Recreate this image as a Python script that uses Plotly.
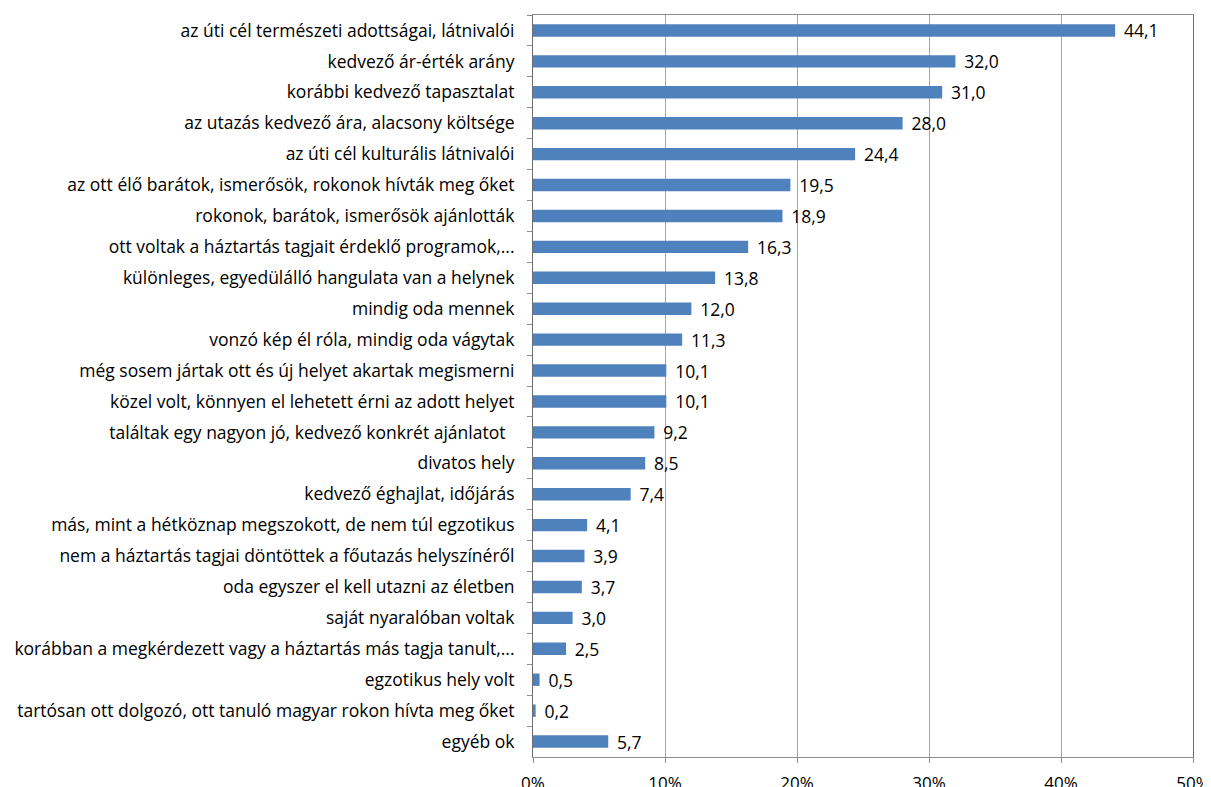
import plotly.graph_objects as go

categories = [
    "az úti cél természeti adottságai, látnivalói",
    "kedvező ár-érték arány",
    "korábbi kedvező tapasztalat",
    "az utazás kedvező ára, alacsony költsége",
    "az úti cél kulturális látnivalói",
    "az ott élő barátok, ismerősök, rokonok hívták meg őket",
    "rokonok, barátok, ismerősök ajánlották",
    "ott voltak a háztartás tagjait érdeklő programok,...",
    "különleges, egyedülálló hangulata van a helynek",
    "mindig oda mennek",
    "vonzó kép él róla, mindig oda vágytak",
    "még sosem jártak ott és új helyet akartak megismerni",
    "közel volt, könnyen el lehetett érni az adott helyet",
    "találtak egy nagyon jó, kedvező konkrét ajánlatot\u00a0\u00a0",
    "divatos hely",
    "kedvező éghajlat, időjárás",
    "más, mint a hétköznap megszokott, de nem túl egzotikus",
    "nem a háztartás tagjai döntöttek a főutazás helyszínéről",
    "oda egyszer el kell utazni az életben",
    "saját nyaralóban voltak",
    "korábban a megkérdezett vagy a háztartás más tagja tanult,...",
    "egzotikus hely volt",
    "tartósan ott dolgozó, ott tanuló magyar rokon hívta meg őket",
    "egyéb ok",
]
values = [44.1, 32.0, 31.0, 28.0, 24.4, 19.5, 18.9, 16.3, 13.8, 12.0, 11.3, 10.1,
          10.1, 9.2, 8.5, 7.4, 4.1, 3.9, 3.7, 3.0, 2.5, 0.5, 0.2, 5.7]
x_ticks = [0, 10, 20, 30, 40, 50]
x_tick_labels = ["0%", "10%", "20%", "30%", "40%", "50%"]

labels = [f"{v:.1f}".replace(".", ",") for v in values]

FONT = "'Open Sans', sans-serif"
FS = 17.5

fig = go.Figure(go.Bar(
    x=values, y=categories, orientation="h",
    marker=dict(color="#4F81BD", line=dict(width=0)),
    text=labels, texttemplate="\u2009\u2009%{text}",
    textposition="outside", cliponaxis=False,
    constraintext="none",
    textfont=dict(family=FONT, size=FS, color="#000000"),
    width=0.4,
))

# Page has an 8px body margin; figure is offset by (8, 8) in the window.
fig.update_layout(
    width=1203, height=779,
    margin=dict(l=525, r=18, t=7, b=30, autoexpand=False),
    paper_bgcolor="white", plot_bgcolor="white",
    font=dict(family=FONT, size=FS, color="#000000"),
    showlegend=False,
    xaxis=dict(
        range=[0, 50], tickvals=x_ticks, ticktext=x_tick_labels,
        showgrid=True, gridcolor="#A6A6A6", gridwidth=1,
        showline=True, linecolor="#8C8C8C", linewidth=1, mirror=True,
        ticks="outside", ticklen=5, tickcolor="#8C8C8C",
        zeroline=False, fixedrange=True, automargin=False,
        ticklabelstandoff=6,
        tickfont=dict(family=FONT, size=17, color="#000000"),
    ),
    yaxis=dict(
        type="category", autorange="reversed", automargin=False,
        showline=True, linecolor="#6E6E6E", linewidth=1, mirror=True,
        ticks="outside", ticklen=5, tickcolor="#8C8C8C", tickson="boundaries",
        ticklabelstandoff=14, showgrid=False,
        tickfont=dict(family=FONT, size=FS, color="#000000"),
    ),
)

fig.write_html("out.html")
